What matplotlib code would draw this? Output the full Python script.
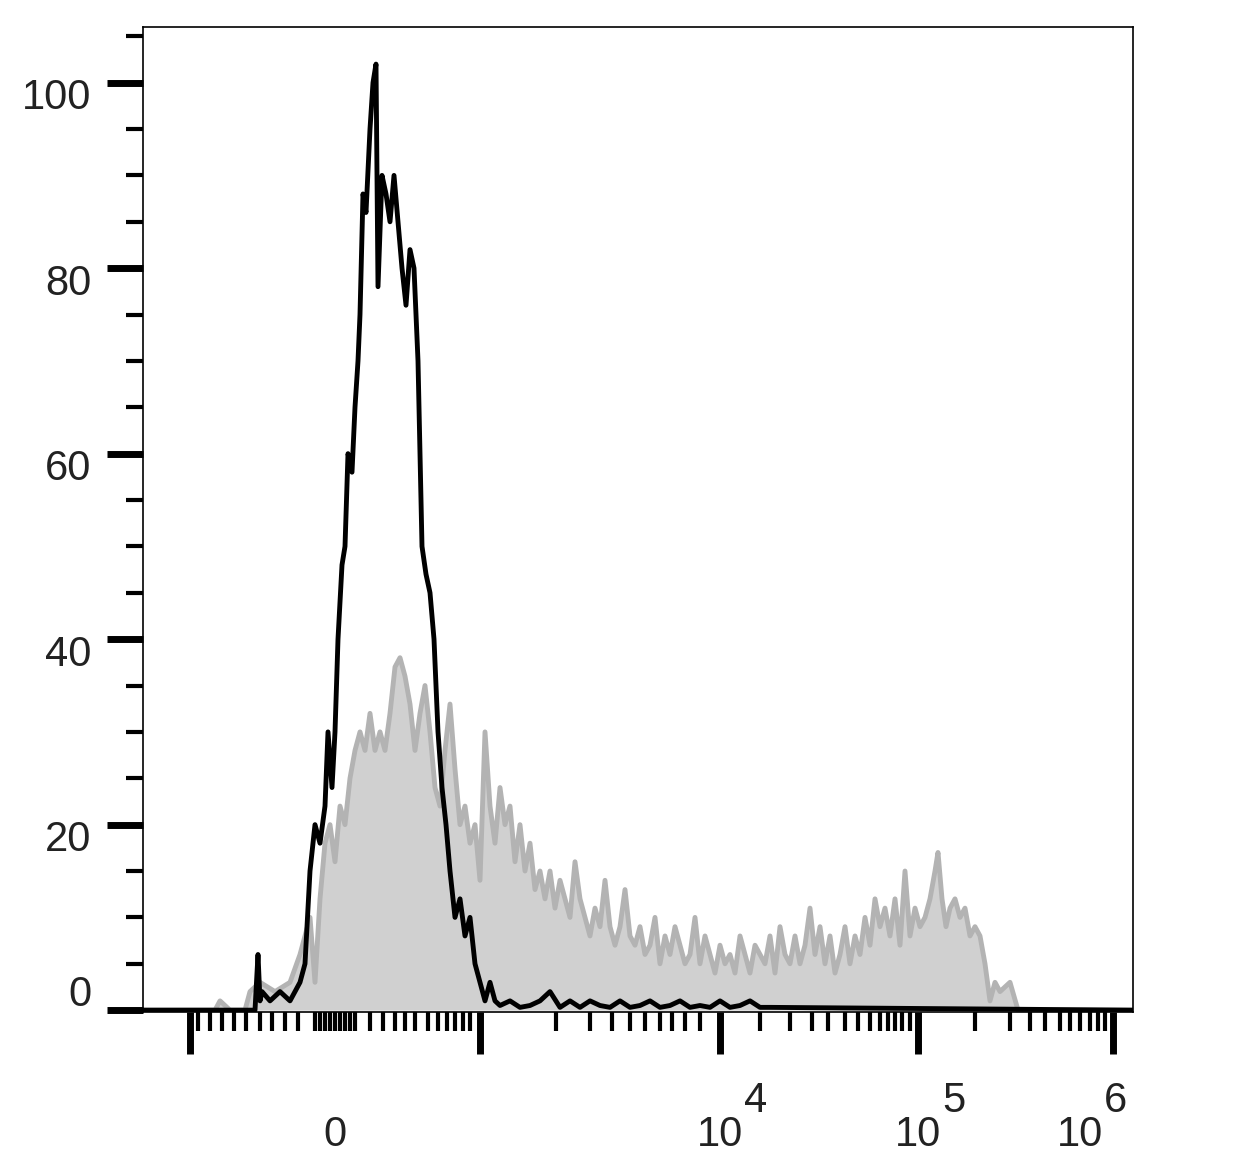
import matplotlib
matplotlib.use("Agg")
import matplotlib.pyplot as plt
import numpy as np
plt.rcParams['font.family'] = ['Liberation Sans', 'DejaVu Sans']

# channel positions (0..990 across the axis) and % of max
black_x = [0,112,115,117,119,127,137,147,157,162,167,172,177,182,185,189,192,195,199,202,205,209,212,215,217,220,223,227,230,233,235,239,243,247,251,255,259,263,267,271,275,279,283,287,291,295,299,303,307,312,317,322,327,332,337,342,347,352,357,367,377,387,397,407,417,427,437,447,457,467,477,487,497,507,517,527,537,547,557,567,577,587,597,607,617,627,990]
black_y = [0,0,6,1,2,1,2,1,3,5,15,20,18,22,30,24,30,40,48,50,60,58,65,70,75,88,86,95,100,102,78,90,88,85,90,85,80,76,82,80,70,50,47,45,40,30,24,20,15,10,12,8,10,5,3,1,3,1,0.5,1,0.3,0.5,1,2,0.3,1,0.3,1,0.5,0.3,1,0.3,0.5,1,0.3,0.5,1,0.3,0.5,0.3,1,0.3,0.5,1,0.3,0.3,0]

gray_x = [0,72,77,87,102,107,117,132,147,157,167,172,177,182,187,192,197,202,207,212,217,222,227,232,237,242,247,252,257,262,267,272,277,282,287,292,297,302,307,312,317,322,327,332,337,342,347,352,357,362,367,372,377,382,387,392,397,402,407,412,417,422,427,432,437,442,447,452,457,462,467,472,477,482,487,492,497,502,507,512,517,522,527,532,537,542,547,552,557,562,567,572,577,582,587,592,597,602,607,612,617,622,627,632,637,642,647,652,657,662,667,672,677,682,687,692,697,702,707,712,717,722,727,732,737,742,747,752,757,762,767,772,777,782,787,792,795,799,803,807,812,817,822,827,832,837,842,847,852,857,867,875,990]
gray_y = [0,0,1,0,0,2,3,2,3,6,10,3,12,18,20,16,22,20,25,28,30,28,32,28,30,28,32,37,38,36,33,28,32,35,30,24,22,28,33,26,20,22,18,20,14,30,22,18,24,20,22,16,20,15,18,13,15,12,15,11,14,12,10,16,12,10,8,11,9,14,9,7,9,13,8,7,9,6,7,10,5,8,6,9,7,5,6,10,5,8,6,4,7,5,6,4,8,6,4,7,6,5,8,4,9,6,5,8,5,7,11,6,9,5,8,4,6,9,5,8,6,10,7,12,9,11,8,12,7,15,8,11,9,10,12,15,17,12,9,11,12,10,11,8,9,8,5,1,3,2,3,0,0]

major_x = [47, 337, 577, 775, 970]
minor_x = [55,67,79,91,103,117,129,142,155,172,177,182,187,192,197,202,207,212,227,240,252,262,272,285,295,304,312,320,327,413,447,469,487,502,517,529,542,557,617,647,669,685,702,715,727,737,745,752,759,767,832,867,887,902,917,927,937,947,955,962]
ytick_vals = [0,20,40,60,80,100]
yminor_vals = [v for v in range(0,106,5) if v % 20]

fig = plt.figure(figsize=(12.4,11.7), dpi=100)
ax = fig.add_axes([143/1240, 158/1170, 990/1240, 985/1170])
ax.fill_between(gray_x, gray_y, 0, color="#d0d0d0", lw=0, zorder=1)
ax.plot(gray_x, gray_y, color="#b3b3b3", lw=3.5, zorder=2)
ax.plot(black_x, black_y, color="black", lw=3.5, zorder=3)
ax.set_xlim(0, 990)
ax.set_ylim(-0.2, 106)
for s in ax.spines.values():
    s.set_linewidth(1.2)
ax.set_xticks(major_x)
ax.set_xticks(minor_x, minor=True)
ax.set_yticks(ytick_vals)
ax.set_yticks(yminor_vals, minor=True)
ax.tick_params(axis="x", which="major", length=30, width=5, direction="out", labelbottom=False)
ax.tick_params(axis="x", which="minor", length=14, width=3, direction="out")
ax.tick_params(axis="y", which="major", length=26, width=5, direction="out", labelleft=False)
ax.tick_params(axis="y", which="minor", length=12, width=3, direction="out")
tr = ax.get_yaxis_transform()
for v in ytick_vals:
    off = 1.6 if v == 0 else -1.7
    ax.text(-0.052, v + off, str(v), transform=tr, ha="right", va="center", fontsize=30, color="#222222")
tx = ax.get_xaxis_transform()
ax.text(192, -0.125, "0", transform=tx, ha="center", va="center", fontsize=30, color="#222222")
for pos, e in [(577, "4"), (775, "5"), (937, "6")]:
    ax.text(pos, -0.125, "10", transform=tx, ha="center", va="center", fontsize=30, color="#222222")
    ax.text(pos + 36, -0.09, e, transform=tx, ha="center", va="center", fontsize=30, color="#222222")
fig.savefig("out.png", dpi=100)
